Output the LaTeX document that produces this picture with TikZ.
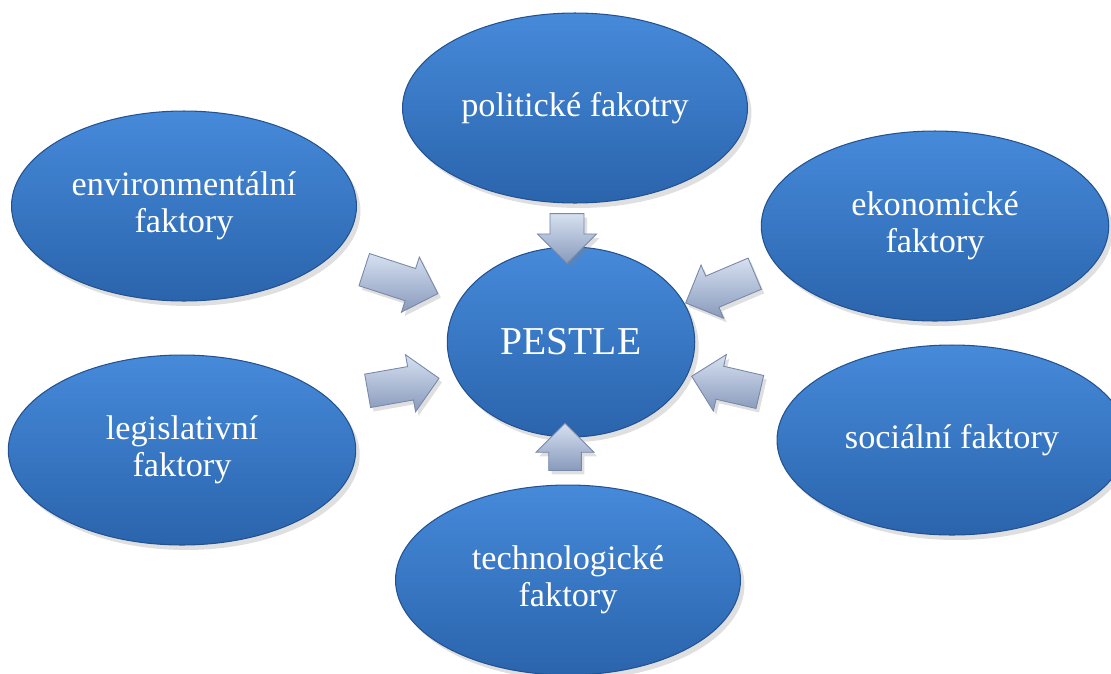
\documentclass[tikz,border=0pt]{standalone}
\usepackage{fontspec}
\setmainfont{Liberation Serif}
\usetikzlibrary{shapes.geometric,shapes.arrows,shadows}
\definecolor{elltop}{RGB}{70,138,218}
\definecolor{ellbot}{RGB}{42,100,172}
\definecolor{elledge}{RGB}{36,82,145}
\definecolor{arrtop}{RGB}{214,224,240}
\definecolor{arrbot}{RGB}{136,154,188}
\definecolor{arredge}{RGB}{120,136,168}
\tikzset{
  factor/.style={ellipse, inner sep=0pt, minimum width=6.9cm, minimum height=3.8cm,
    top color=elltop, bottom color=ellbot, draw=elledge, line width=0.6pt,
    drop shadow={opacity=0.25, shadow xshift=0.08cm, shadow yshift=-0.1cm},
    text=white, align=center, font=\fontsize{19.5}{21}\selectfont},
  blockarrow/.style={single arrow, inner sep=0.33cm, single arrow head extend=0.24cm,
    top color=arrtop, bottom color=arrbot, draw=arredge, line width=0.5pt,
    drop shadow={opacity=0.25, shadow xshift=0.06cm, shadow yshift=-0.08cm}}
}
\begin{document}
\begin{tikzpicture}[x=0.02cm, y=-0.02cm]
\useasboundingbox (0,0) rectangle (1111,673);
\node[factor] (pol) at (575,108) {politické fakotry};
\node[factor] (env) at (184,206) {environmentální\\faktory};
\node[factor, minimum width=6.95cm] (eko) at (935,226) {ekonomické\\faktory};
\node[factor, minimum width=4.95cm, font=\fontsize{22.5}{24}\selectfont] (pestle) at (571,342) {PESTLE};
\node[factor, minimum width=6.95cm] (leg) at (182,450) {legislativní\\faktory};
\node[factor, minimum width=7.0cm] (soc) at (952,440) {sociální faktory};
\node[factor] (tech) at (568,580) {technologické\\faktory};
\node[blockarrow, minimum height=1.55cm, minimum width=1.15cm, rotate=-18] (aenv) at (393,279) {};
\node[blockarrow, minimum height=0.8cm, minimum width=1.18cm, inner sep=0.32cm, rotate=-90] (apol) at (567,230) {};
\node[blockarrow, minimum height=1.5cm, minimum width=1.15cm, rotate=203] (aeko) at (728,285) {};
\node[blockarrow, minimum height=1.4cm, minimum width=1.1cm, rotate=167] (asoc) at (734,386) {};
\node[blockarrow, minimum height=0.75cm, minimum width=1.16cm, inner sep=0.3cm, rotate=90] (atech) at (565,455) {};
\node[blockarrow, minimum height=1.45cm, minimum width=1.1cm, rotate=10] (aleg) at (395,386) {};
\end{tikzpicture}
\end{document}
